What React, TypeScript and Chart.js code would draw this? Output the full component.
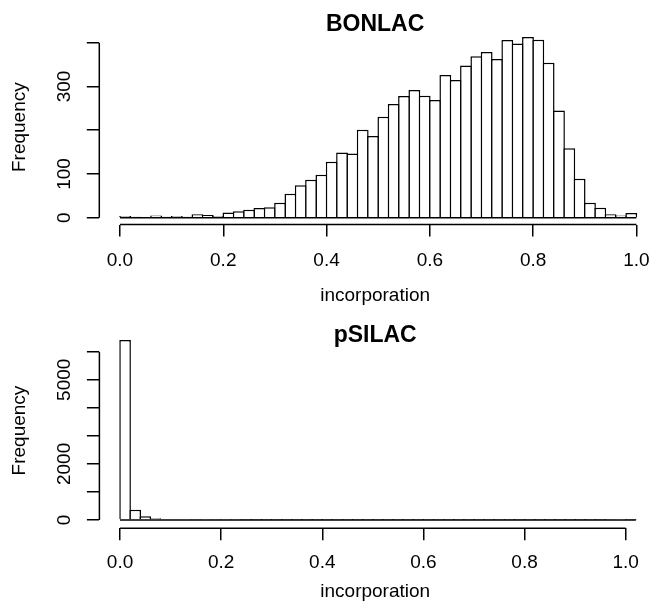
import React, { useEffect, useRef } from "react";
import { Chart, registerables } from "chart.js";

Chart.register(...registerables);
Chart.defaults.font.family = "'Liberation Sans', Arial, sans-serif";
Chart.defaults.color = "#000";

// ---------- data ----------
const BIN_WIDTH = 0.02;

const bonlacTitle = "BONLAC";
const bonlacCounts = [
  4, 2, 1, 5, 2, 4, 2, 8, 6, 4,
  12, 15, 18, 22, 24, 34, 55, 74, 87, 98,
  128, 149, 147, 201, 187, 231, 260, 278, 292, 279,
  269, 326, 315, 348, 369, 379, 363, 406, 398, 413,
  407, 354, 245, 159, 89, 34, 23, 8, 5, 11,
];
const bonlacYTicks = [0, 100, 200, 300, 400];
const bonlacYLabels = ["0", "100", "", "300", ""];

const psilacTitle = "pSILAC";
const psilacCounts = [
  6417, 365, 130, 60, 35, 22, 14, 10, 28, 8,
  6, 5, 4, 4, 3, 3, 3, 2, 2, 2,
  2, 2, 1, 1, 1, 2, 1, 1, 1, 1,
  1, 1, 1, 1, 1, 1, 1, 1, 1, 1,
  2, 2, 1, 1, 2, 2, 3, 4, 6, 30,
  3,
];
const psilacYTicks = [0, 1000, 2000, 3000, 4000, 5000, 6000];
const psilacYLabels = ["0", "", "2000", "", "", "5000", ""];

const xTicks = [0, 0.2, 0.4, 0.6, 0.8, 1.0];
const xTickLabels = ["0.0", "0.2", "0.4", "0.6", "0.8", "1.0"];
const xAxisTitle = "incorporation";
const yAxisTitle = "Frequency";

// ---------- layout (styles / geometry) ----------
const W = 651;
const LINE = 1.5;
const INK = "#000";

type Panel = {
  title: string;
  counts: number[];
  yTicks: number[];
  yLabels: string[];
  canvasTop: number;
  canvasHeight: number;
  xMin: number;
  xMax: number;
  yMin: number;
  yMax: number;
  chartLeft: number;
  chartTop: number;
  chartBottom: number;
  titleCenter: number;
  yTickPad: number;
  xTickPad: number;
  xTitleCenter: number;
};

const panels: Panel[] = [
  {
    title: bonlacTitle,
    counts: bonlacCounts,
    yTicks: bonlacYTicks,
    yLabels: bonlacYLabels,
    canvasTop: 0,
    canvasHeight: 312,
    xMin: -0.04,
    xMax: 1.0282,
    yMin: -15.5,
    yMax: 429.5,
    chartLeft: 99.3,
    chartTop: 29.8,
    chartBottom: 224.5,
    titleCenter: 24.5,
    yTickPad: 5.7,
    xTickPad: 12.6,
    xTitleCenter: 296,
  },
  {
    title: psilacTitle,
    counts: psilacCounts,
    yTicks: psilacYTicks,
    yLabels: psilacYLabels,
    canvasTop: 301,
    canvasHeight: 301,
    xMin: -0.0408,
    xMax: 1.05,
    yMin: -296,
    yMax: 6674,
    chartLeft: 99.4,
    chartTop: 31.8,
    chartBottom: 227.3,
    titleCenter: 34.5,
    yTickPad: 0.6,
    xTickPad: 10.8,
    xTitleCenter: 291,
  },
];

const axisLinesPlugin = {
  id: "axisLines",
  afterDraw(chart: any, _args: any, opts: any) {
    const { ctx, chartArea, scales } = chart;
    const x = scales.x;
    const y = scales.y;
    ctx.save();
    ctx.strokeStyle = INK;
    ctx.lineWidth = LINE;
    ctx.beginPath();
    ctx.moveTo(x.getPixelForValue(opts.xFrom), chartArea.bottom);
    ctx.lineTo(x.getPixelForValue(opts.xTo), chartArea.bottom);
    ctx.moveTo(chartArea.left, y.getPixelForValue(opts.yFrom));
    ctx.lineTo(chartArea.left, y.getPixelForValue(opts.yTo));
    ctx.stroke();
    ctx.restore();
  },
};

function HistPanel({ p }: { p: Panel }) {
  const ref = useRef<HTMLCanvasElement | null>(null);

  useEffect(() => {
    if (!ref.current) return;
    const nBins = p.counts.length;
    const binPx = ((W - p.chartLeft) / (p.xMax - p.xMin)) * BIN_WIDTH;
    const barPct = 1 + LINE / binPx;
    const barData = p.counts.map((c, i) => ({ x: i * BIN_WIDTH + BIN_WIDTH / 2, y: c }));
    const lastEdge = nBins * BIN_WIDTH;
    const titleLH = 27.6;
    const titlePadTop = p.titleCenter - titleLH / 2;
    const titlePadBottom = p.chartTop - titleLH - titlePadTop;
    const xTitlePadBottom = p.canvasHeight - p.xTitleCenter - 11.4;

    const chart = new Chart(ref.current, {
      type: "bar",
      data: {
        datasets: [
          {
            type: "bar",
            data: barData as any,
            backgroundColor: "#fff",
            borderColor: INK,
            borderWidth: LINE,
            borderSkipped: "bottom",
            barPercentage: barPct,
            categoryPercentage: 1,
            order: 1,
          } as any,
          {
            type: "line",
            data: [
              { x: 0, y: 0 },
              { x: lastEdge, y: 0 },
            ] as any,
            borderColor: INK,
            borderWidth: LINE,
            pointRadius: 0,
            order: 0,
          } as any,
        ],
      },
      options: {
        responsive: false,
        animation: false,
        devicePixelRatio: 1,
        layout: { padding: 0 },
        plugins: {
          legend: { display: false },
          tooltip: { enabled: false },
          title: {
            display: true,
            text: p.title,
            fullSize: false,
            color: INK,
            font: { size: 23, weight: "bold", lineHeight: 1.2 },
            padding: { top: titlePadTop, bottom: titlePadBottom },
          },
          axisLines: {
            xFrom: xTicks[0],
            xTo: xTicks[xTicks.length - 1],
            yFrom: p.yTicks[0],
            yTo: p.yTicks[p.yTicks.length - 1],
          },
        } as any,
        scales: {
          x: {
            type: "linear",
            position: "bottom",
            offset: false,
            min: p.xMin,
            max: p.xMax,
            border: { display: false },
            grid: {
              offset: false,
              drawOnChartArea: false,
              drawTicks: true,
              tickLength: 12,
              color: INK,
              lineWidth: LINE,
            },
            ticks: {
              autoSkip: false,
              maxRotation: 0,
              minRotation: 0,
              padding: p.xTickPad,
              color: INK,
              font: { size: 19 },
              callback: (_v: any, i: number) => xTickLabels[i],
            },
            afterBuildTicks: (s: any) => {
              s.ticks = xTicks.map((v) => ({ value: v }));
            },
            afterFit: (s: any) => {
              s.height = p.canvasHeight - p.chartBottom;
              s.paddingLeft = 0;
              s.paddingRight = 0;
              s.paddingTop = 0;
              s.paddingBottom = 0;
            },
            title: {
              display: true,
              text: xAxisTitle,
              color: INK,
              font: { size: 19, lineHeight: 1.2 },
              padding: { top: 0, bottom: xTitlePadBottom },
            },
          } as any,
          y: {
            type: "linear",
            position: "left",
            min: p.yMin,
            max: p.yMax,
            border: { display: false },
            grid: {
              drawOnChartArea: false,
              drawTicks: true,
              tickLength: 12.5,
              color: INK,
              lineWidth: LINE,
            },
            ticks: {
              autoSkip: false,
              minRotation: 90,
              maxRotation: 90,
              crossAlign: "center",
              padding: p.yTickPad,
              color: INK,
              font: { size: 19 },
              callback: (_v: any, i: number) => p.yLabels[i],
            },
            afterBuildTicks: (s: any) => {
              s.ticks = p.yTicks.map((v) => ({ value: v }));
            },
            afterFit: (s: any) => {
              s.width = p.chartLeft;
              s.paddingLeft = 0;
              s.paddingRight = 0;
              s.paddingTop = 0;
              s.paddingBottom = 0;
            },
            title: {
              display: true,
              text: yAxisTitle,
              color: INK,
              font: { size: 19, lineHeight: 1.2 },
              padding: { top: 8.6, bottom: 0 },
            },
          } as any,
        },
      },
      plugins: [axisLinesPlugin],
    });
    return () => chart.destroy();
  }, [p]);

  return (
    <canvas
      ref={ref}
      width={W}
      height={p.canvasHeight}
      style={{
        position: "absolute",
        left: 0,
        top: p.canvasTop,
        display: "block",
        width: W,
        height: p.canvasHeight,
      }}
    />
  );
}

export default function App() {
  return (
    <div
      style={{
        position: "fixed",
        left: 0,
        top: 0,
        width: W,
        height: 602,
        background: "#fff",
      }}
    >
      {panels.map((p) => (
        <HistPanel key={p.title} p={p} />
      ))}
    </div>
  );
}
